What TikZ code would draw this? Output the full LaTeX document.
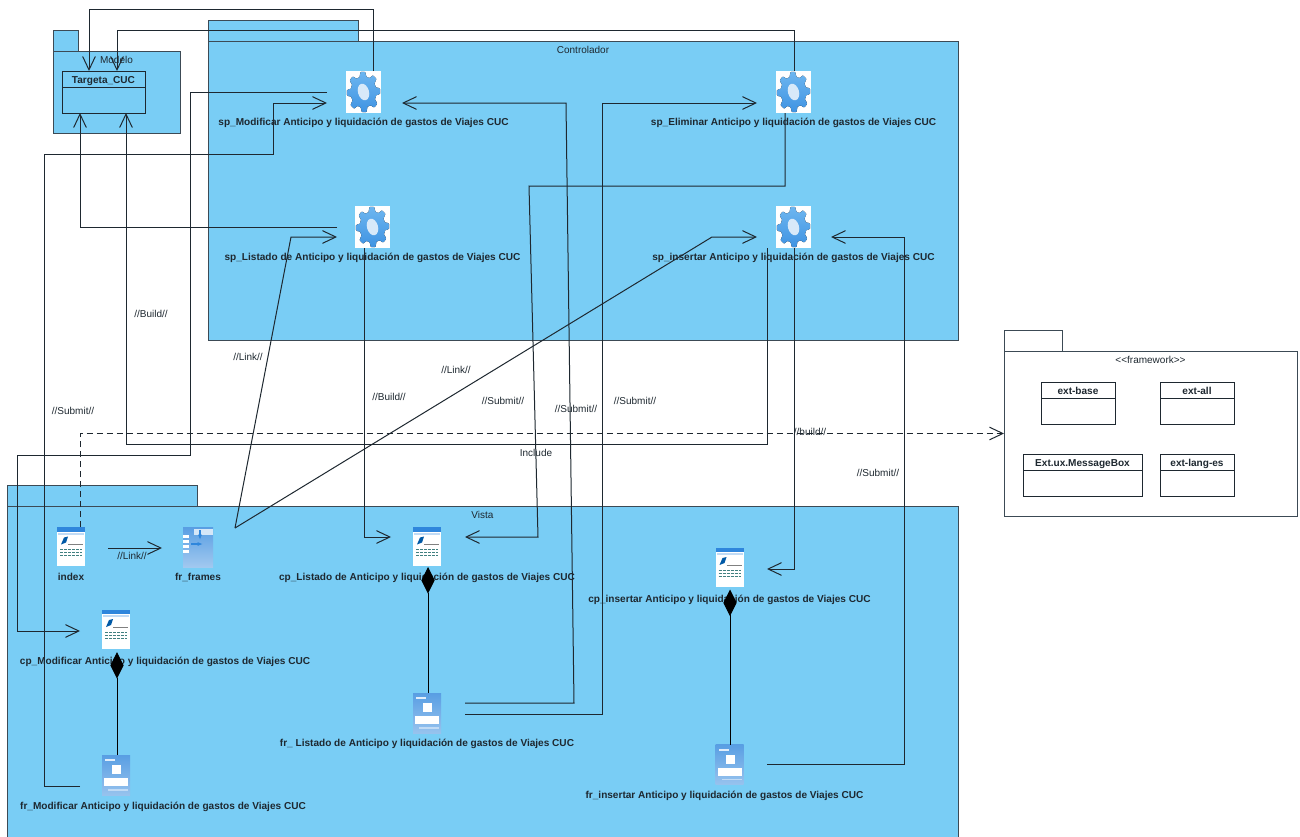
\documentclass[tikz,border=0pt]{standalone}
\usepackage{fontspec}
\setmainfont{Liberation Sans}
\usepackage{xcolor}
\usetikzlibrary{arrows.meta, positioning}
\definecolor{pkgblue}{HTML}{79CDF5}
\definecolor{edgedark}{HTML}{1E2830}
\definecolor{pkgedge}{HTML}{3C4A55}
\definecolor{gearlight}{HTML}{6DB6F0}
\definecolor{gearblue}{HTML}{3F93E2}
\definecolor{iconblue}{HTML}{2F86DC}
\newlength{\pxu}
\setlength{\pxu}{0.75pt}
\tikzset{
    package/.style={rectangle, draw=pkgedge, line width=1\pxu, fill=pkgblue, inner sep=0pt, outer sep=0pt},
    packagetab/.style={package, minimum height=21\pxu, anchor=south west},
    pkglabel/.style={anchor=north, inner sep=0pt, yshift=-5\pxu, text=edgedark, font=\fontsize{7.5}{9}\selectfont},
    classtitle/.style={rectangle, draw=edgedark, line width=1\pxu, minimum height=16\pxu, inner sep=0pt, outer sep=0pt, text height=6.5pt, text depth=0pt, font=\bfseries\fontsize{7.55}{9}\selectfont, text=edgedark},
    classbody/.style={rectangle, draw=edgedark, line width=1\pxu, minimum height=26\pxu, inner sep=0pt, outer sep=0pt},
    gearbox/.style={rectangle, fill=white, minimum width=35\pxu, minimum height=42\pxu, inner sep=0pt, outer sep=0pt},
    pagebox/.style={rectangle, fill=white, minimum width=28\pxu, minimum height=39\pxu, inner sep=0pt, outer sep=0pt},
    formbox/.style={rectangle, top color=iconblue!80, bottom color=iconblue!50, minimum width=28\pxu, minimum height=40\pxu, inner sep=0pt, outer sep=0pt},
    framebox/.style={rectangle, top color=iconblue!80, bottom color=iconblue!45, minimum width=30\pxu, minimum height=40\pxu, inner sep=0pt, outer sep=0pt},
    iconlabel/.style={inner sep=0pt, font=\bfseries\fontsize{7.55}{9}\selectfont, text=edgedark},
    edgelabel/.style={inner sep=0pt, text=edgedark, font=\fontsize{7.5}{9}\selectfont},
    arrow/.style={line width=1\pxu, draw=edgedark, -{Straight Barb[length=10pt,width=9.5pt]}},
    depend/.style={arrow, dash pattern=on 6\pxu off 4\pxu},
    compose/.style={line width=1\pxu, draw=black, -{Diamond[length=20pt,width=10pt]}}
}
\newcommand{\geargear}[1]{
    \begin{scope}[shift={(#1.center)}]
        \fill [top color=gearlight, bottom color=gearblue] plot [smooth cycle, domain=0:356, samples=90] ({14.8*(1+.13*max(-1,min(1,2.2*cos(8*\x+20))))*cos(\x)},{17.9*(1+.13*max(-1,min(1,2.2*cos(8*\x+20))))*sin(\x)});
        \fill [gearblue!20!white, rotate=16] (0,0) ellipse (5.5 and 8.5);
    \end{scope}
}
\newcommand{\pagemark}[1]{
    \begin{scope}[shift={(#1.center)}]
        \fill [iconblue] (-14,-19.5) rectangle (14,-15);
        \fill [iconblue!30] (-13,-14) rectangle (13,-12);
        \fill [teal!70!blue] (-10,-2) -- (-7,-9) -- (-3,-10) -- (-5,-4) -- cycle;
        \draw [gray, line width=.8\pxu] (-3,-2) -- (12,-2);
        \foreach \row in {3,6,9} {
            \draw [teal!50!gray, line width=.9\pxu, dash pattern=on 3\pxu off 1\pxu] (-11,\row) -- (11,\row);
        }
    \end{scope}
}
\newcommand{\formmark}[1]{
    \begin{scope}[shift={(#1.center)}]
        \fill [white!85!iconblue] (-11,-16) rectangle (-1,-14);
        \fill [white] (-4,-10) rectangle (5,-1);
        \fill [white] (-12,3) rectangle (12,11);
        \fill [white!70!iconblue] (-8,14) rectangle (12,15.5);
    \end{scope}
}
\newcommand{\framemark}[1]{
    \begin{scope}[shift={(#1.center)}]
        \fill [white!80!iconblue] (-4,-18) rectangle (15,-12);
        \foreach \row in {-12,-7,-2,3} {
            \fill [white] (-15,\row) rectangle (-9,\row+3);
        }
        \draw [iconblue, line width=1.5\pxu, -{Latex[length=4pt]}] (-7,-3) -- (5,-3);
        \draw [iconblue, line width=1.5\pxu, -{Latex[length=4pt]}] (2,-17) -- (2,-7);
    \end{scope}
}
\begin{document}
\begin{tikzpicture}[x=0.75pt, y=-0.75pt]
    \useasboundingbox (0,0) rectangle (1300,836);
    \fill [white] (0,0) rectangle (1300,836);
    \clip (0,0) rectangle (1300,836);

    \node (modelo) [package, minimum width=127\pxu, minimum height=82\pxu, label={[pkglabel]north:Modelo}] at (116.5,92) {};
    \node (modeloTab) [packagetab, minimum width=25\pxu] at (modelo.north west) {};
    \node (controlador) [package, minimum width=750\pxu, minimum height=299\pxu, label={[pkglabel]north:Controlador}] at (583,190.5) {};
    \node (controladorTab) [packagetab, minimum width=150\pxu] at (controlador.north west) {};
    \node (vista) [package, minimum width=951\pxu, minimum height=340\pxu, label={[pkglabel]north:Vista}] at (482.5,676) {};
    \node (vistaTab) [packagetab, minimum width=190\pxu] at (vista.north west) {};
    \node (framework) [package, fill=white, minimum width=293\pxu, minimum height=165\pxu, label={[pkglabel]north:<{}<framework>{}>}] at (1150.5,433.5) {};
    \node (frameworkTab) [packagetab, fill=white, minimum width=58\pxu] at (framework.north west) {};

    \node (targeta) [classtitle, minimum width=83\pxu] at (103.5,79) {Targeta\_CUC};
    \node (targetaB) [classbody, minimum width=83\pxu, below=0pt of targeta] {};
    \node (extBase) [classtitle, minimum width=74\pxu] at (1078,390) {ext-base};
    \node (extBaseB) [classbody, minimum width=74\pxu, below=0pt of extBase] {};
    \node (extAll) [classtitle, minimum width=74\pxu] at (1197,390) {ext-all};
    \node (extAllB) [classbody, minimum width=74\pxu, below=0pt of extAll] {};
    \node (extBox) [classtitle, minimum width=119\pxu] at (1082.5,462.5) {Ext.ux.MessageBox};
    \node (extBoxB) [classbody, minimum width=119\pxu, below=0pt of extBox] {};
    \node (extLang) [classtitle, minimum width=74\pxu] at (1197,462.5) {ext-lang-es};
    \node (extLangB) [classbody, minimum width=74\pxu, below=0pt of extLang] {};

    \node (spMod) [gearbox] at (363.5,92) {};
    \node (spList) [gearbox] at (372.5,227) {};
    \node (spElim) [gearbox] at (793.5,92) {};
    \node (spIns) [gearbox] at (793.5,227) {};
    \node (index) [pagebox] at (71,546.5) {};
    \node (frames) [framebox] at (198,547) {};
    \node (cpList) [pagebox] at (427,546.5) {};
    \node (cpMod) [pagebox] at (116,629) {};
    \node (cpIns) [pagebox] at (729.5,567) {};
    \node (frMod) [formbox] at (116,775) {};
    \node (frList) [formbox] at (427,713) {};
    \node (frIns) [formbox] at (729.5,764.5) {};
    \geargear{spMod}
    \geargear{spList}
    \geargear{spElim}
    \geargear{spIns}
    \pagemark{index}
    \pagemark{cpList}
    \pagemark{cpMod}
    \pagemark{cpIns}
    \formmark{frMod}
    \formmark{frList}
    \formmark{frIns}
    \framemark{frames}

    \node (spModL) [iconlabel, below=5\pxu of spMod] {sp\_Modificar Anticipo y liquidación de gastos de Viajes CUC};
    \node (spListL) [iconlabel, below=5\pxu of spList] {sp\_Listado de Anticipo y liquidación de gastos de Viajes CUC};
    \node (spElimL) [iconlabel, below=5\pxu of spElim] {sp\_Eliminar Anticipo y liquidación de gastos de Viajes CUC};
    \node (spInsL) [iconlabel, below=5\pxu of spIns] {sp\_insertar Anticipo y liquidación de gastos de Viajes CUC};
    \node (indexL) [iconlabel, below=7\pxu of index] {index};
    \node (framesL) [iconlabel, below=6\pxu of frames] {fr\_frames};
    \node (cpListL) [iconlabel, below=7\pxu of cpList] {cp\_Listado de Anticipo y liquidación de gastos de Viajes CUC};
    \node (cpModL) [iconlabel, below=8\pxu of cpMod, xshift=49\pxu] {cp\_Modificar Anticipo y liquidación de gastos de Viajes CUC};
    \node (cpInsL) [iconlabel, below=8\pxu of cpIns] {cp\_insertar Anticipo y liquidación de gastos de Viajes CUC};
    \node (frModL) [iconlabel, below=7\pxu of frMod, xshift=47\pxu] {fr\_Modificar Anticipo y liquidación de gastos de Viajes CUC};
    \node (frListL) [iconlabel, below=6\pxu of frList] {fr\_ Listado de Anticipo y liquidación de gastos de Viajes CUC};
    \node (frInsL) [iconlabel, below=6\pxu of frIns, xshift=-5\pxu] {fr\_insertar Anticipo y liquidación de gastos de Viajes CUC};

    \node (lblBuildA) [edgelabel] at (151,314) {//Build//};
    \node (lblLinkA) [edgelabel] at (248,357) {//Link//};
    \node (lblLinkB) [edgelabel] at (456,370) {//Link//};
    \node (lblSubA) [edgelabel] at (73,411) {//Submit//};
    \node (lblBuildB) [edgelabel] at (389,397) {//Build//};
    \node (lblSubB) [edgelabel] at (503,401) {//Submit//};
    \node (lblSubC) [edgelabel] at (576,409) {//Submit//};
    \node (lblSubD) [edgelabel] at (635,401) {//Submit//};
    \node (lblBuildC) [edgelabel] at (810,432) {//build//};
    \node (lblInclude) [edgelabel] at (536,453) {Include};
    \node (lblSubE) [edgelabel] at (878,473) {//Submit//};
    \node (lblLinkC) [edgelabel] at (132,556) {//Link//};

    \draw [arrow] ([xshift=9.5\pxu]spMod.north) -- ++(0,-62) -| ([xshift=-14.5\pxu]targeta.north);
    \draw [arrow] ([xshift=0.5\pxu]spElim.north) -- ++(0,-41) -| ([xshift=13.5\pxu]targeta.north);
    \draw [arrow] ([xshift=-18\pxu]spList.west) -| ([xshift=-23.5\pxu]targetaB.south);
    \draw [arrow] ([xshift=-26.5\pxu]spIns.south) -- ++(0,196) -| ([xshift=22.5\pxu]targetaB.south);
    \draw [arrow] ([xshift=-19\pxu]spMod.west) -- ++(-137,0) -- ++(0,363) -- ++(-173,0) |- ([xshift=-22\pxu,yshift=-2\pxu]cpMod.west);
    \draw [arrow] ([xshift=-22\pxu,yshift=-11\pxu]frMod.west) -- ++(-36,0) -- ++(0,-632) -- ++(229,0) |- ([xshift=-19\pxu,yshift=-11\pxu]spMod.west);
    \draw [arrow] ([xshift=-8.5\pxu]spList.south) |- ([xshift=-22\pxu,yshift=9.5\pxu]cpList.west);
    \draw [arrow] ([xshift=22\pxu,yshift=19\pxu]frames.east) -- (291,237) -- ([xshift=-18\pxu,yshift=-10\pxu]spList.west);
    \draw [arrow] ([xshift=22\pxu,yshift=19\pxu]frames.east) -- (712,237) -- ([xshift=-19\pxu,yshift=-10\pxu]spIns.west);
    \draw [arrow] ([xshift=-8.5\pxu]spElim.south) -- (785,186) -- (529,186) -- (538,537) -- ([xshift=24\pxu,yshift=9.5\pxu]cpList.east);
    \draw [arrow] ([xshift=24\pxu,yshift=10\pxu]frList.east) -- (574,703) -- (566,103) -- ([xshift=21\pxu,yshift=-11\pxu]spMod.east);
    \draw [arrow] ([xshift=24\pxu,yshift=-1\pxu]frList.east) -- (602,714) |- ([xshift=-19\pxu,yshift=-11\pxu]spElim.west);
    \draw [arrow] ([xshift=23.5\pxu]frIns.east) -- (904.5,764.5) |- ([xshift=20\pxu,yshift=-10\pxu]spIns.east);
    \draw [arrow] ([xshift=0.5\pxu]spIns.south) |- ([xshift=23.5\pxu,yshift=-2\pxu]cpIns.east);
    \draw [depend] ([xshift=9\pxu]index.north) |- (framework.west);
    \draw [arrow] ([xshift=23\pxu,yshift=-1.5\pxu]index.east) -- ([xshift=-21\pxu,yshift=-1\pxu]frames.west);
    \draw [compose] ([xshift=1\pxu]frList.north) -- ([xshift=1\pxu,yshift=-1\pxu]cpList.south);
    \draw [compose] ([xshift=1\pxu]frMod.north) -- ([xshift=1\pxu,yshift=-3.5\pxu]cpMod.south);
    \draw [compose] ([xshift=0.5\pxu]frIns.north) -- ([xshift=0.5\pxu,yshift=-3\pxu]cpIns.south);
\end{tikzpicture}
\end{document}
